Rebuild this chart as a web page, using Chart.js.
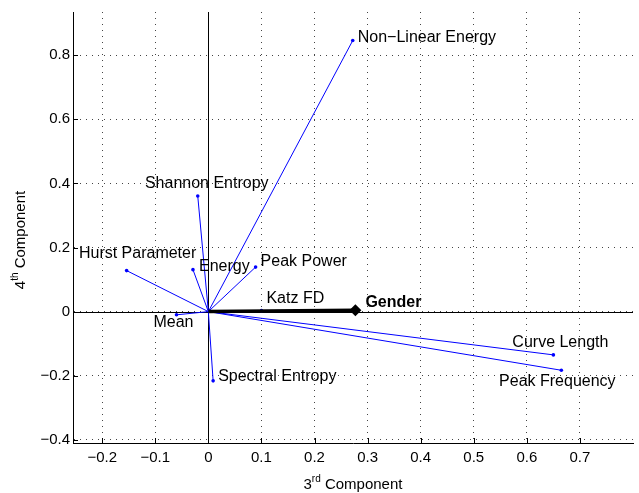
<!DOCTYPE html>
<html>
<head>
<meta charset="utf-8">
<script src="https://cdn.jsdelivr.net/npm/chart.js@4.4.0/dist/chart.umd.min.js"></script>
<style>
html,body{margin:0;padding:0;background:#fff;}
#wrap{width:639px;height:493px;position:relative;}
</style>
</head>
<body>
<div id="wrap"><canvas id="c" width="639" height="493"></canvas></div>
<script>
// ---- data ----
const categories = ['Non\u2212Linear Energy','Shannon Entropy','Hurst Parameter','Energy','Peak Power','Mean','Spectral Entropy','Curve Length','Peak Frequency','Katz FD'];
const comp3 = [0.272, -0.020, -0.154, -0.029, 0.089, -0.060, 0.009, 0.650, 0.665, 0.100];
const comp4 = [0.846, 0.361, 0.128, 0.131, 0.139, -0.010, -0.216, -0.135, -0.183, 0.003];
const responseName = 'Gender';
const responseX = [0.277];
const responseY = [0.004];
const xTicks = [-0.2, -0.1, 0, 0.1, 0.2, 0.3, 0.4, 0.5, 0.6, 0.7];
const yTicks = [-0.4, -0.2, 0, 0.2, 0.4, 0.6, 0.8];
const xTitle = ['3', 'rd', ' Component'];
const yTitle = ['4', 'th', ' Component'];

// ---- label placement (style) ----
const labelStyle = [
  {dx:5, dy:-3, align:'left'},
  {dx:9, dy:-12, align:'center'},
  {dx:11, dy:-17, align:'center'},
  {dx:6, dy:-3, align:'left'},
  {dx:5, dy:-5, align:'left'},
  {dx:-3, dy:8, align:'center'},
  {dx:5, dy:-4, align:'left'},
  {dx:7, dy:-12, align:'center'},
  {dx:-4, dy:11, align:'center'},
  {dx:5, dy:-12, align:'left'}
];
const FONT = '"Liberation Sans", Arial, Helvetica, sans-serif';

const datasets = categories.map((c, i) => ({
  label: c,
  data: [{x:0, y:0}, {x:comp3[i], y:comp4[i]}],
  showLine: true,
  borderColor: '#0000ff',
  backgroundColor: '#0000ff',
  borderWidth: 1,
  pointRadius: [0, 1.8],
  pointBorderWidth: 0,
  order: 1
}));
datasets.push({
  label: responseName,
  data: [{x:0, y:0}, {x:responseX[0], y:responseY[0]}],
  showLine: true,
  borderColor: '#000',
  backgroundColor: '#000',
  borderWidth: 3.5,
  pointStyle: 'rectRot',
  pointRadius: [0, 6],
  pointBorderWidth: 0,
  order: -1
});

const fmt = v => {
  let s = (Math.round(v*10)/10).toString();
  if (s === '-0') s = '0';
  return s.replace('-', '\u2212');
};

const overlay = {
  id: 'overlay',
  beforeDatasetsDraw(chart) {
    const {ctx, chartArea: a, scales: {x, y}} = chart;
    ctx.save();
    ctx.strokeStyle = '#000';
    ctx.lineWidth = 1;
    const x0 = Math.round(x.getPixelForValue(0)) + 0.5;
    const y0 = Math.round(y.getPixelForValue(0)) + 0.5;
    ctx.beginPath();
    ctx.moveTo(x0, a.top); ctx.lineTo(x0, a.bottom);
    ctx.moveTo(a.left, y0); ctx.lineTo(a.right, y0);
    ctx.stroke();
    // inward tick marks
    ctx.beginPath();
    xTicks.forEach(v => {
      const px = Math.round(x.getPixelForValue(v)) + 0.5;
      ctx.moveTo(px, a.bottom); ctx.lineTo(px, a.bottom - 5);
    });
    yTicks.forEach(v => {
      const py = Math.round(y.getPixelForValue(v)) + 0.5;
      ctx.moveTo(a.left, py); ctx.lineTo(a.left + 5, py);
    });
    ctx.stroke();
    ctx.restore();
  },
  afterDatasetsDraw(chart) {
    const {ctx} = chart;
    ctx.save();
    ctx.fillStyle = '#000';
    ctx.textBaseline = 'middle';
    ctx.font = '16px ' + FONT;
    categories.forEach((c, i) => {
      const pt = chart.getDatasetMeta(i).data[1];
      const st = labelStyle[i];
      ctx.textAlign = st.align;
      ctx.fillText(c, pt.x + st.dx, pt.y + st.dy);
    });
    const gp = chart.getDatasetMeta(categories.length).data[1];
    ctx.font = 'bold 16px ' + FONT;
    ctx.textAlign = 'left';
    ctx.fillText(responseName, gp.x + 10, gp.y - 8);
    ctx.restore();
  },
  afterDraw(chart) {
    const {ctx, chartArea: a} = chart;
    const drawSup = (parts, cx, cy) => {
      ctx.font = '15px ' + FONT;
      const w1 = ctx.measureText(parts[0]).width;
      const w3 = ctx.measureText(parts[2]).width;
      ctx.font = '10px ' + FONT;
      const w2 = ctx.measureText(parts[1]).width;
      const total = w1 + w2 + w3;
      let sx = cx - total / 2;
      ctx.textAlign = 'left';
      ctx.textBaseline = 'alphabetic';
      ctx.font = '15px ' + FONT;
      ctx.fillText(parts[0], sx, cy);
      ctx.font = '10px ' + FONT;
      ctx.fillText(parts[1], sx + w1, cy - 7);
      ctx.font = '15px ' + FONT;
      ctx.fillText(parts[2], sx + w1 + w2, cy);
    };
    ctx.save();
    ctx.fillStyle = '#000';
    drawSup(xTitle, (a.left + a.right) / 2, 489);
    ctx.translate(25, 240);
    ctx.rotate(-Math.PI / 2);
    drawSup(yTitle, 0, 0);
    ctx.restore();
  }
};

new Chart(document.getElementById('c'), {
  type: 'scatter',
  data: {datasets},
  options: {
    responsive: false,
    animation: false,
    devicePixelRatio: 1,
    layout: {padding: {top: 10, right: 4, left: 0, bottom: 0}},
    plugins: {legend: {display: false}, tooltip: {enabled: false}},
    scales: {
      x: {
        type: 'linear',
        min: -0.255, max: 0.8,
        afterBuildTicks: s => { s.ticks = xTicks.map(v => ({value: v})); },
        afterFit: s => { s.height = 50; },
        ticks: {
          callback: v => fmt(v),
          font: {family: FONT, size: 15},
          color: '#000',
          padding: 6,
          maxRotation: 0,
          autoSkip: false
        },
        grid: {color: '#444', lineWidth: 1, tickLength: 0, drawTicks: false},
        border: {display: true, color: '#000', width: 1, dash: [1, 5]}
      },
      y: {
        type: 'linear',
        min: -0.41, max: 0.935,
        afterBuildTicks: s => { s.ticks = yTicks.map(v => ({value: v})); },
        afterFit: s => { s.width = 73; },
        ticks: {
          callback: v => fmt(v),
          font: {family: FONT, size: 15},
          color: '#000',
          padding: 3,
          autoSkip: false
        },
        grid: {color: '#444', lineWidth: 1, tickLength: 0, drawTicks: false},
        border: {display: true, color: '#000', width: 1, dash: [1, 5]}
      }
    }
  },
  plugins: [overlay]
});
</script>
</body>
</html>
